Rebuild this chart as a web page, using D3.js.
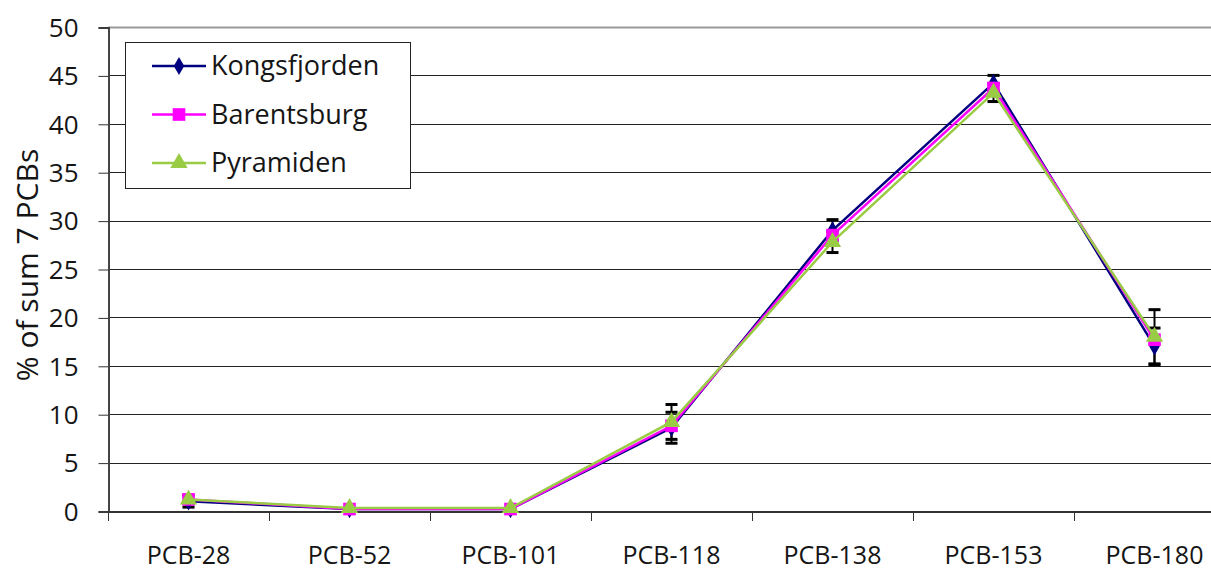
<!DOCTYPE html>
<html>
<head>
<meta charset="utf-8">
<script src="https://cdn.jsdelivr.net/npm/d3@7"></script>
<style>
  body { margin: 0; background: #fff; }
  text { font-family: "Open Sans", "Liberation Sans", sans-serif; fill: #151515; }
</style>
</head>
<body>
<div id="chart"></div>
<script>
// categories and series
var categories = ["PCB-28", "PCB-52", "PCB-101", "PCB-118", "PCB-138", "PCB-153", "PCB-180"];
var kongsfjorden = [1.0, 0.2, 0.2, 8.6, 29.0, 44.2, 17.0];
var barentsburg  = [1.2, 0.2, 0.2, 8.8, 28.5, 43.7, 17.7];
var pyramiden    = [1.2, 0.3, 0.3, 9.2, 27.8, 43.2, 18.0];
// error bars (+/-), black
var kongsErr = [0.6, 0, 0, 1.6, 1.1, 0.8, 1.9];
var pyraErr  = [0, 0, 0, 1.8, 1.1, 0.9, 2.8];
var yTicks = [0, 5, 10, 15, 20, 25, 30, 35, 40, 45, 50];

var width = 1211, height = 573;
var margin = {left: 108, top: 27, bottom: 62};
var bandW = 161;

var svg = d3.select("#chart").append("svg")
  .attr("width", width).attr("height", height);

var x = d3.scaleBand().domain(categories)
  .range([margin.left, margin.left + bandW * categories.length]);
var y = d3.scaleLinear().domain([0, 50]).range([height - margin.bottom, margin.top]);

// gridlines
svg.selectAll(".grid").data(yTicks.filter(function (d) { return d > 0; }))
  .enter().append("line")
  .attr("x1", margin.left).attr("x2", width)
  .attr("y1", function (d) { return Math.round(y(d)) + 0.5; })
  .attr("y2", function (d) { return Math.round(y(d)) + 0.5; })
  .style("stroke", function (d) { return d == 50 ? "#999" : "#222"; })
  .style("stroke-width", function (d) { return d == 50 ? 2 : 1; });

// y axis
var yAxis = svg.append("g")
  .attr("transform", "translate(" + (margin.left + 0.5) + ",0.5)")
  .call(d3.axisLeft(y).tickValues(yTicks).tickSize(10).tickPadding(20));
yAxis.select(".domain").style("stroke", "#444").style("stroke-width", 2);
yAxis.selectAll(".tick line").style("stroke", "#333");
yAxis.selectAll("text").style("font-size", "26px").attr("dy", "0.34em");

// x axis
var xAxis = svg.append("g")
  .attr("transform", "translate(0," + (Math.round(y(0)) + 0.5) + ")")
  .call(d3.axisBottom(x).tickSize(0).tickPadding(35));
xAxis.select(".domain").style("stroke", "#333").style("stroke-width", 2);
xAxis.selectAll("text").style("font-size", "25px");
svg.selectAll(".xtick").data(d3.range(categories.length + 1))
  .enter().append("line")
  .attr("x1", function (i) { return margin.left + i * bandW + 0.5; })
  .attr("x2", function (i) { return margin.left + i * bandW + 0.5; })
  .attr("y1", y(0)).attr("y2", y(0) + 10)
  .style("stroke", "#333");

// y label
svg.append("text")
  .attr("transform", "translate(38," + 265 + ") rotate(-90)")
  .attr("text-anchor", "middle")
  .style("font-size", "30px")
  .text("% of sum 7 PCBs");

var series = [
  {name: "Kongsfjorden", values: kongsfjorden, color: "#000080", shape: d3.symbolDiamond, size: 95},
  {name: "Barentsburg", values: barentsburg, color: "#ff00ff", shape: d3.symbolSquare, size: 160},
  {name: "Pyramiden", values: pyramiden, color: "#99cc44", shape: d3.symbolTriangle, size: 130}
];

var cx = function (i) { return x(categories[i]) + x.bandwidth() / 2; };
var line = d3.line()
  .x(function (d, i) { return cx(i); })
  .y(function (d) { return y(d); });

// error bars
function errorBars(vals, errs) {
  var g = svg.append("g");
  vals.forEach(function (v, i) {
    if (!errs[i]) return;
    var xi = cx(i), top = y(v + errs[i]), bot = y(v - errs[i]);
    g.append("line").attr("x1", xi).attr("x2", xi).attr("y1", top).attr("y2", bot)
      .style("stroke", "#000").style("stroke-width", 2);
    [top, bot].forEach(function (yy) {
      g.append("line").attr("x1", xi - 6).attr("x2", xi + 6).attr("y1", yy).attr("y2", yy)
        .style("stroke", "#000").style("stroke-width", 3);
    });
  });
}
errorBars(kongsfjorden, kongsErr);
errorBars(pyramiden, pyraErr);

series.forEach(function (s) {
  svg.append("path").datum(s.values)
    .attr("d", line)
    .style("fill", "none").style("stroke", s.color).style("stroke-width", 2.5);
  svg.selectAll(null).data(s.values).enter().append("path")
    .attr("d", d3.symbol().type(s.shape).size(s.size))
    .attr("transform", function (d, i) { return "translate(" + cx(i) + "," + y(d) + ")"; })
    .style("fill", s.color);
});

// legend
var lg = svg.append("g");
lg.append("rect").attr("x", 125.5).attr("y", 42.5).attr("width", 285).attr("height", 146)
  .style("fill", "#fff").style("stroke", "#222").style("stroke-width", 1);
series.forEach(function (s, i) {
  var ly = 66 + i * 48.5;
  lg.append("line").attr("x1", 152).attr("x2", 206).attr("y1", ly).attr("y2", ly)
    .style("stroke", s.color).style("stroke-width", 2.5);
  lg.append("path").attr("d", d3.symbol().type(s.shape).size(s.size))
    .attr("transform", "translate(179," + ly + ")").style("fill", s.color);
  lg.append("text").attr("x", 211).attr("y", ly).attr("dy", "0.35em")
    .style("font-size", "27px").text(s.name);
});
</script>
</body>
</html>
